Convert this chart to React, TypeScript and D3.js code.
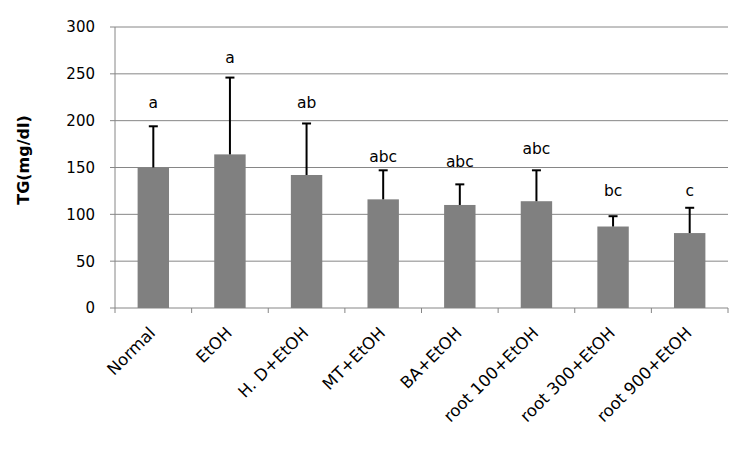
import React from "react";
import * as d3 from "d3";

const categories = ["Normal", "EtOH", "H. D+EtOH", "MT+EtOH", "BA+EtOH", "root 100+EtOH", "root 300+EtOH", "root 900+EtOH"];
const means = [150, 164, 142, 116, 110, 114, 87, 80];
const errors = [44, 82, 55, 31, 22, 33, 11, 27];
const letters = ["a", "a", "ab", "abc", "abc", "abc", "bc", "c"];
const letterPos = [220, 268, 220, 162, 157, 170, 126, 125];
const yTicks = [0, 50, 100, 150, 200, 250, 300];

const W = 752, H = 451;
const left = 115, right = 728, top = 27, bottom = 308;
const FONT = "'DejaVu Sans', sans-serif";

export default function App() {
  const x = d3.scaleBand<string>().domain(categories).range([left, right]).paddingInner(0).paddingOuter(0);
  const y = d3.scaleLinear().domain([0, 300]).range([bottom, top]);
  const bw = x.bandwidth();
  const barW = bw * 0.41;
  return (
    <svg width={W} height={H} style={{ position: "absolute", left: 0, top: 0, background: "#fff" }}>
      <rect width={W} height={H} fill="#fff" />
      {yTicks.map((t) => (
        <g key={t}>
          {t > 0 && <line x1={left} x2={right} y1={y(t)} y2={y(t)} stroke="#868686" strokeWidth={1} />}
          <line x1={left - 5} x2={left} y1={y(t)} y2={y(t)} stroke="#868686" strokeWidth={1} />
          <text x={left - 20} y={y(t)} dy="0.36em" textAnchor="end" fontFamily={FONT} fontSize={15} fill="#000">{t}</text>
        </g>
      ))}
      <line x1={left} x2={left} y1={top} y2={bottom} stroke="#868686" strokeWidth={1} />
      <line x1={left} x2={right} y1={bottom} y2={bottom} stroke="#868686" strokeWidth={1} />
      {categories.concat([""]).map((c, i) => {
        const xx = left + i * bw;
        return <line key={"t" + i} x1={xx} x2={xx} y1={bottom} y2={bottom + 5} stroke="#868686" strokeWidth={1} />;
      })}
      {categories.map((c, i) => {
        const cx = (x(c) as number) + bw / 2;
        const yt = y(means[i]);
        const ye = y(means[i] + errors[i]);
        return (
          <g key={c}>
            <rect x={cx - barW / 2} y={yt} width={barW} height={bottom - yt} fill="#808080" />
            <line x1={cx} x2={cx} y1={yt} y2={ye} stroke="#000" strokeWidth={2} />
            <line x1={cx - 4.5} x2={cx + 4.5} y1={ye} y2={ye} stroke="#000" strokeWidth={2} />
            <text x={cx} y={y(letterPos[i])} dy="0.36em" textAnchor="middle" fontFamily={FONT} fontSize={15.5} fill="#000">{letters[i]}</text>
            <text transform={`translate(${cx + 3},${bottom + 26}) rotate(-45)`} textAnchor="end" fontFamily={FONT} fontSize={16.5} fill="#000">{c}</text>
          </g>
        );
      })}
      <text transform={`translate(29,160) rotate(-90)`} textAnchor="middle" fontFamily={FONT} fontSize={16} fontWeight="bold" fill="#000">TG(mg/dl)</text>
    </svg>
  );
}
